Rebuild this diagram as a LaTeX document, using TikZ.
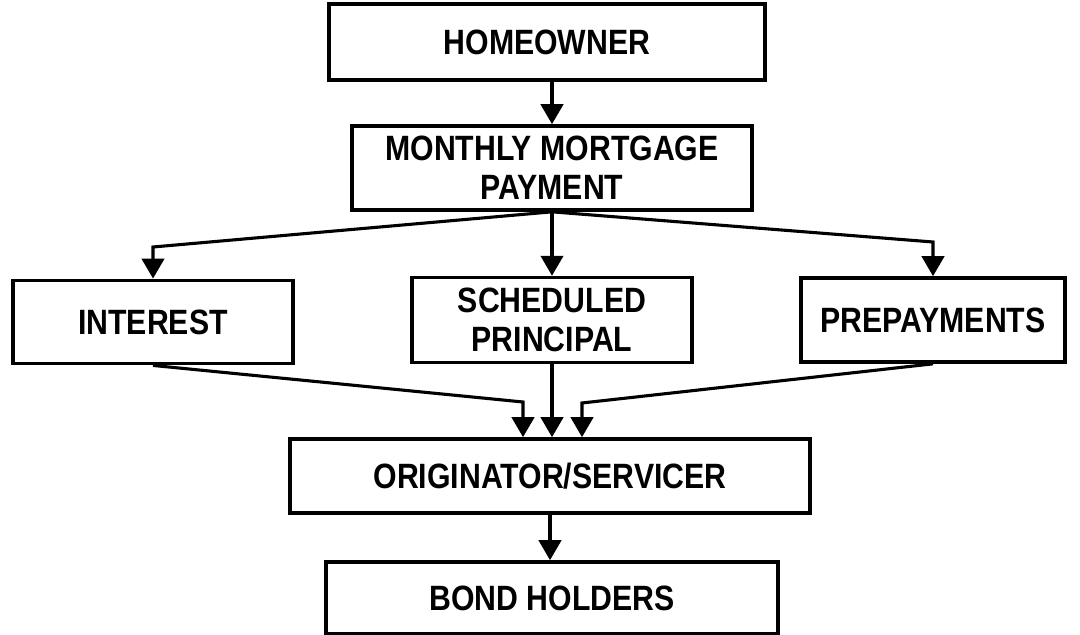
\documentclass[tikz,border=0pt]{standalone}
\usepackage{fontspec}
\setmainfont{Liberation Sans}[FakeStretch=0.86]
\usetikzlibrary{arrows.meta}

\begin{document}
\begin{tikzpicture}[x=0.025cm, y=-0.025cm,
  font=\fontsize{25}{28}\selectfont\bfseries,
  block/.style={draw, line width=2.6pt, align=center, inner sep=0pt},
  link/.style={line width=2.2pt, -{Triangle[length=0.5cm, width=0.56cm]}}]
  \useasboundingbox (0,0) rectangle (1080,635);
  % payer and the payment
  \node[block, minimum width=10.9cm, minimum height=1.9cm] (home) at (547,42) {HOMEOWNER};
  \node[block, minimum width=10cm, minimum height=2.1cm] (pay) at (552,168) {MONTHLY MORTGAGE\\PAYMENT};
  % the three parts of the payment
  \node[block, minimum width=7cm, minimum height=2.08cm] (int) at (153,322) {INTEREST};
  \node[block, minimum width=7cm, minimum height=2.12cm] (sched) at (552,320) {SCHEDULED\\PRINCIPAL};
  \node[block, minimum width=6.6cm, minimum height=2.1cm] (prep) at (933,320) {PREPAYMENTS};
  % where the cash goes
  \node[block, minimum width=13cm, minimum height=1.85cm] (orig) at (550,476) {ORIGINATOR/SERVICER};
  \node[block, minimum width=11.3cm, minimum height=1.8cm] (bond) at (552,598) {BOND HOLDERS};
  % bends of the split and of the merge
  \coordinate (lsplit) at (153,247);
  \coordinate (rsplit) at (933,242);
  \coordinate (lmerge) at (523,402);
  \coordinate (rmerge) at (582,403);
  \draw[link] (pay.north |- home.south) -- (pay.north);
  \draw[link] (pay.south) -- (lsplit) -- (int.north);
  \draw[link] (pay.south) -- (sched.north);
  \draw[link] (pay.south) -- (rsplit) -- (prep.north);
  \draw[link] (int.south) -- (lmerge) -- (lmerge |- orig.north);
  \draw[link] (sched.south) -- (sched.south |- orig.north);
  \draw[link] (prep.south) -- (rmerge) -- (rmerge |- orig.north);
  \draw[link] (orig.south) -- (orig.south |- bond.north);
\end{tikzpicture}
\end{document}
